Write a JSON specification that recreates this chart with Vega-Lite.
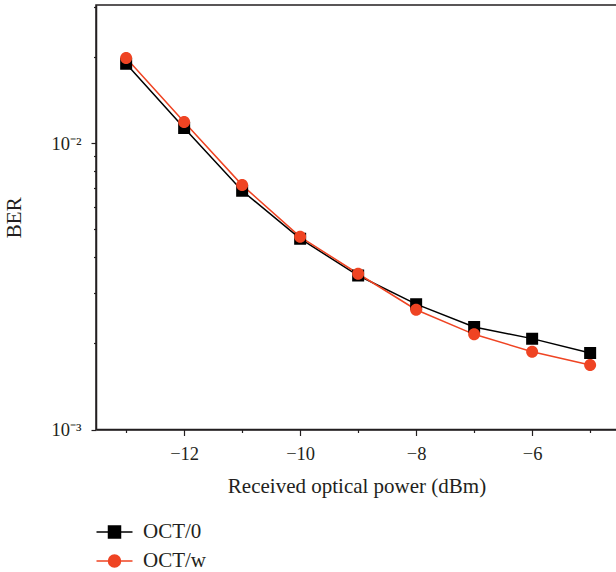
{
  "$schema": "https://vega.github.io/schema/vega-lite/v6.json",
  "width": 521,
  "height": 424.5,
  "autosize": {"type": "none"},
  "padding": {"left": 96, "top": 5, "right": 0, "bottom": 142.5},
  "background": "white",
  "config": {
    "font": "Liberation Serif",
    "view": {"stroke": "#231f20", "strokeWidth": 1.5},
    "axis": {
      "grid": false,
      "domainColor": "#231f20",
      "domainWidth": 1.5,
      "tickColor": "#231f20",
      "tickWidth": 1.2,
      "labelColor": "#231f20",
      "titleColor": "#231f20",
      "labelFont": "Liberation Serif",
      "titleFont": "Liberation Serif",
      "labelFontSize": 18.5,
      "titleFontSize": 21,
      "titleFontWeight": "normal"
    },
    "legend": {
      "labelFont": "Liberation Serif",
      "labelFontSize": 21,
      "labelColor": "#231f20"
    }
  },
  "data": {
    "values": [
      {"power": -13, "ber": 0.01897, "series": "OCT/0"},
      {"power": -12, "ber": 0.01131, "series": "OCT/0"},
      {"power": -11, "ber": 0.00682, "series": "OCT/0"},
      {"power": -10, "ber": 0.00464, "series": "OCT/0"},
      {"power": -9, "ber": 0.00345, "series": "OCT/0"},
      {"power": -8, "ber": 0.00274, "series": "OCT/0"},
      {"power": -7, "ber": 0.00228, "series": "OCT/0"},
      {"power": -6, "ber": 0.002077, "series": "OCT/0"},
      {"power": -5, "ber": 0.00185, "series": "OCT/0"},
      {"power": -13, "ber": 0.01985, "series": "OCT/w"},
      {"power": -12, "ber": 0.01187, "series": "OCT/w"},
      {"power": -11, "ber": 0.00714, "series": "OCT/w"},
      {"power": -10, "ber": 0.00471, "series": "OCT/w"},
      {"power": -9, "ber": 0.0035, "series": "OCT/w"},
      {"power": -8, "ber": 0.00262, "series": "OCT/w"},
      {"power": -7, "ber": 0.00215, "series": "OCT/w"},
      {"power": -6, "ber": 0.00187, "series": "OCT/w"},
      {"power": -5, "ber": 0.00168, "series": "OCT/w"}
    ]
  },
  "encoding": {
    "x": {
      "field": "power",
      "type": "quantitative",
      "scale": {"domain": [-13.52, -4.537], "nice": false, "zero": false},
      "axis": {
        "title": "Received optical power (dBm)",
        "values": [-13, -12, -11, -10, -9, -8, -7, -6, -5],
        "labelExpr": "datum.value % 2 == 0 ? datum.label : ''",
        "tickSize": {"condition": {"test": "datum.value % 2 == 0", "value": 6}, "value": 3},
        "labelPadding": 9,
        "titlePadding": 12
      }
    },
    "y": {
      "field": "ber",
      "type": "quantitative",
      "scale": {"type": "log", "domain": [0.001, 0.0304], "nice": false},
      "axis": {
        "title": "BER",
        "values": [0.001, 0.002, 0.003, 0.004, 0.005, 0.006, 0.007, 0.008, 0.009, 0.01, 0.02, 0.03],
        "labelExpr": "datum.value == 0.01 ? '10⁻²' : (datum.value == 0.001 ? '10⁻³' : '')",
        "tickSize": {"condition": {"test": "datum.value == 0.01 || datum.value == 0.001", "value": 5}, "value": 2.5},
        "labelPadding": 10,
        "titlePadding": 26
      }
    }
  },
  "layer": [
    {
      "mark": {"type": "line", "strokeWidth": 1.5},
      "encoding": {
        "color": {
          "field": "series",
          "type": "nominal",
          "scale": {"domain": ["OCT/0", "OCT/w"], "range": ["#000000", "#ef4423"]},
          "legend": {"title": null, "orient": "none", "legendX": 8, "legendY": 516.5, "symbolSize": 144, "symbolStrokeWidth": 1.5, "rowPadding": 7, "labelOffset": 18, "padding": 0}
        }
      }
    },
    {
      "mark": {"type": "point", "filled": true, "strokeWidth": 0, "size": 144, "opacity": 1},
      "encoding": {
        "fill": {
          "field": "series",
          "type": "nominal",
          "scale": {"domain": ["OCT/0", "OCT/w"], "range": ["#000000", "#ef4423"]},
          "legend": {"title": null, "orient": "none", "legendX": 8, "legendY": 516.5, "symbolSize": 144, "symbolStrokeWidth": 1.5, "rowPadding": 7, "labelOffset": 18, "padding": 0}
        },
        "shape": {
          "field": "series",
          "type": "nominal",
          "scale": {"domain": ["OCT/0", "OCT/w"], "range": ["M-3,0H-1M1,0H3M-1,-1H1V1H-1Z", "M-3,0H-1M1,0H3M-1,0A1,1 0 1,0 1,0A1,1 0 1,0 -1,0Z"]},
          "legend": {"title": null, "orient": "none", "legendX": 8, "legendY": 516.5, "symbolSize": 144, "symbolStrokeWidth": 1.5, "rowPadding": 7, "labelOffset": 18, "padding": 0}
        }
      }
    }
  ]
}
